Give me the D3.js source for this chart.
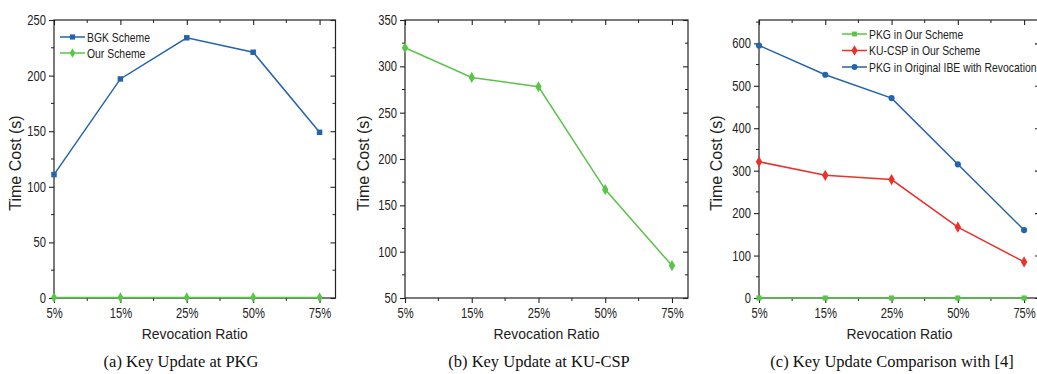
<!DOCTYPE html>
<html>
<head>
<meta charset="utf-8">
<script src="https://cdn.jsdelivr.net/npm/d3@7"></script>
<style>
  body { margin: 0; background: #fff; }
  svg { display: block; }
  .narrow { font-family: "Liberation Sans", Arial, sans-serif; }
  .ytitle { font-family: "Liberation Sans", Arial, sans-serif; }
  .caption { font-family: "Liberation Serif", "Times New Roman", serif; }
</style>
</head>
<body>
<div id="chart"></div>
<script>
// categories on the x axis (same for every panel)
const categories = ['5%', '15%', '25%', '50%', '75%'];

// (a) key update at PKG
const bgkScheme = [111, 197, 234, 221, 149];
const ourSchemeA = [0.5, 0.5, 0.5, 0.5, 0.5];
const yTicksA = [0, 50, 100, 150, 200, 250];

// (b) key update at KU-CSP
const kuCspB = [320, 288, 278, 167, 85];
const yTicksB = [50, 100, 150, 200, 250, 300, 350];

// (c) comparison with [4]
const pkgOurC = [0, 0, 0, 0, 0];
const kuCspC = [321, 289, 279, 167, 85];
const pkgOriginalC = [595, 526, 471, 315, 160];
const yTicksC = [0, 100, 200, 300, 400, 500, 600];

const BLUE = '#2463ad', GREEN = '#5ac34a', RED = '#e8322b';

const panels = [
  {
    left: 54, right: 335.5, yDomain: [0, 250], yTicks: yTicksA, yMinorStep: 25,
    series: [
      { name: 'BGK Scheme', values: bgkScheme, color: BLUE, symbol: d3.symbolSquare, size: 30 },
      { name: 'Our Scheme', values: ourSchemeA, color: GREEN, symbol: d3.symbolDiamond, size: 30 }
    ],
    legend: { x: 60, y: 37, dy: 16 },
    ytitleX: 18, caption: '(a) Key Update at PKG', captionX: 181
  },
  {
    left: 405, right: 688, yDomain: [50, 350], yTicks: yTicksB, yMinorStep: 25,
    series: [
      { name: 'KU-CSP', values: kuCspB, color: GREEN, symbol: d3.symbolDiamond, size: 36 }
    ],
    legend: null,
    ytitleX: 366, caption: '(b) Key Update at KU-CSP', captionX: 539
  },
  {
    left: 759, right: 1040, yDomain: [0, 655], yTicks: yTicksC, yMinorStep: 50,
    series: [
      { name: 'PKG in Our Scheme', values: pkgOurC, color: GREEN, symbol: d3.symbolSquare, size: 26 },
      { name: 'KU-CSP in Our Scheme', values: kuCspC, color: RED, symbol: d3.symbolDiamond, size: 36 },
      { name: 'PKG in Original IBE with Revocation', values: pkgOriginalC, color: BLUE, symbol: d3.symbolCircle, size: 30 }
    ],
    legend: { x: 842, y: 34, dy: 16.5 },
    ytitleX: 719, caption: '(c) Key Update Comparison with [4]', captionX: 892
  }
];

const W = 1037, H = 374, plotTop = 20, plotBottom = 298;

const svg = d3.select('#chart').append('svg')
  .attr('width', W).attr('height', H);

// no narrow font installed, so squeeze Liberation Sans sideways in place
function squeeze(sel, k = 0.8) {
  sel.each(function () {
    const t = d3.select(this);
    const tx = +t.attr('x') || 0, ty = +t.attr('y') || 0;
    t.attr('x', 0).attr('y', 0)
      .attr('transform', `translate(${tx},${ty}) scale(${k},1)`);
  });
}

panels.forEach(p => {
  const x = d3.scaleLinear().domain([0, 4.24]).range([p.left, p.right]);
  const y = d3.scaleLinear().domain(p.yDomain).range([plotBottom, plotTop]);
  const g = svg.append('g');

  const minorY = d3.range(p.yDomain[0], p.yDomain[1] + 0.01, p.yMinorStep);
  const minorX = d3.range(0, 4.3, 0.5);

  // frame
  g.append('rect')
    .attr('x', p.left).attr('y', plotTop)
    .attr('width', p.right - p.left).attr('height', plotBottom - plotTop)
    .attr('fill', 'none').attr('stroke', '#222').attr('stroke-width', 1.2);

  // bottom axis: major ticks out, labels
  const xAxis = g.append('g').attr('transform', `translate(0,${plotBottom})`)
    .call(d3.axisBottom(x).tickValues(d3.range(5)).tickSize(5).tickPadding(5)
      .tickFormat(i => categories[i]));
  // top mirror ticks inward
  const xTop = g.append('g').attr('transform', `translate(0,${plotTop})`)
    .call(d3.axisTop(x).tickValues(d3.range(5)).tickSize(-5).tickFormat(''));
  // left axis
  const yAxis = g.append('g').attr('transform', `translate(${p.left},0)`)
    .call(d3.axisLeft(y).tickValues(p.yTicks).tickSize(5).tickPadding(3));
  const yRight = g.append('g').attr('transform', `translate(${p.right},0)`)
    .call(d3.axisRight(y).tickValues(p.yTicks).tickSize(-5).tickFormat(''));

  [xAxis, xTop, yAxis, yRight].forEach(a => {
    a.select('.domain').remove();
    a.selectAll('line').attr('stroke', '#222').attr('stroke-width', 1.1);
    a.selectAll('text').attr('class', 'narrow').attr('font-size', 14)
      .attr('fill', '#222').call(squeeze);
    a.attr('font-family', null).attr('font-size', null);
  });

  // minor ticks
  const halfX = minorX.filter(v => v % 1 !== 0);
  g.selectAll('.mxb').data(halfX).enter().append('line')
    .attr('x1', d => x(d)).attr('x2', d => x(d))
    .attr('y1', plotBottom).attr('y2', plotBottom + 3).attr('stroke', '#222');
  g.selectAll('.mxt').data(halfX).enter().append('line')
    .attr('x1', d => x(d)).attr('x2', d => x(d))
    .attr('y1', plotTop).attr('y2', plotTop + 3).attr('stroke', '#222');
  const minorOnly = minorY.filter(v => !p.yTicks.includes(v));
  g.selectAll('.myl').data(minorOnly).enter().append('line')
    .attr('x1', p.left - 3).attr('x2', p.left)
    .attr('y1', d => y(d)).attr('y2', d => y(d)).attr('stroke', '#222');
  g.selectAll('.myr').data(minorOnly).enter().append('line')
    .attr('x1', p.right - 3).attr('x2', p.right)
    .attr('y1', d => y(d)).attr('y2', d => y(d)).attr('stroke', '#222');

  // titles
  g.append('text').attr('class', 'narrow')
    .attr('x', (p.left + p.right) / 2).attr('y', 339)
    .attr('text-anchor', 'middle').attr('font-size', 15).attr('fill', '#222')
    .text('Revocation Ratio').call(squeeze, 0.93);
  g.append('text').attr('class', 'ytitle')
    .attr('transform', `translate(${p.ytitleX + 3},163) rotate(-90)`)
    .attr('text-anchor', 'middle').attr('font-size', 16).attr('fill', '#222')
    .text('Time Cost (s)');
  g.append('text').attr('class', 'caption')
    .attr('x', p.captionX).attr('y', 367)
    .attr('text-anchor', 'middle').attr('font-size', 16.5).attr('fill', '#111')
    .text(p.caption);

  // series
  const line = d3.line().x((d, i) => x(i)).y(d => y(d));
  p.series.forEach(s => {
    g.append('path').datum(s.values)
      .attr('d', line).attr('fill', 'none')
      .attr('stroke', s.color).attr('stroke-width', 1.5);
    g.selectAll(null).data(s.values).enter().append('path')
      .attr('transform', (d, i) => `translate(${x(i)},${y(d)})`)
      .attr('d', d3.symbol().type(s.symbol).size(s.size))
      .attr('fill', s.color);
  });

  // legend
  if (p.legend) {
    p.series.forEach((s, i) => {
      const ly = p.legend.y + i * p.legend.dy;
      g.append('line')
        .attr('x1', p.legend.x).attr('x2', p.legend.x + 25)
        .attr('y1', ly).attr('y2', ly)
        .attr('stroke', s.color).attr('stroke-width', 1.5);
      g.append('path')
        .attr('transform', `translate(${p.legend.x + 12.5},${ly})`)
        .attr('d', d3.symbol().type(s.symbol).size(s.size * 0.9))
        .attr('fill', s.color);
      g.append('text').attr('class', 'narrow')
        .attr('x', p.legend.x + 27).attr('y', ly + 4.5)
        .attr('font-size', 13).attr('fill', '#222')
        .text(s.name).call(squeeze);
    });
  }
});
</script>
</body>
</html>
